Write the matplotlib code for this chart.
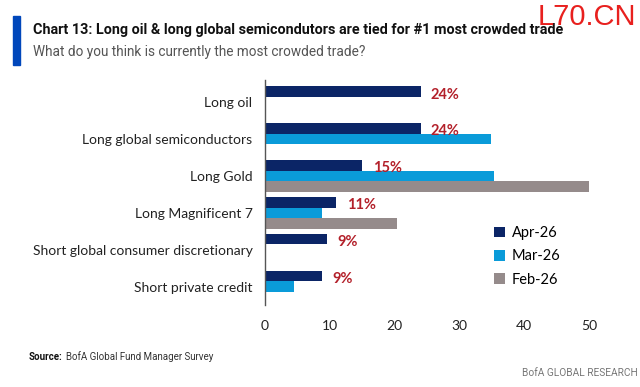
import numpy as np
import matplotlib.pyplot as plt

# data
categories = ['Long oil', 'Long global semiconductors', 'Long Gold', 'Long Magnificent 7',
              'Short global consumer discretionary', 'Short private credit']
apr26 = [24, 24, 15, 11, 9.5, 8.8]
mar26 = [np.nan, 34.8, 35.4, 8.8, np.nan, 4.5]
feb26 = [np.nan, np.nan, 50, 20.4, np.nan, np.nan]
labels = ['24%', '24%', '15%', '11%', '9%', '9%']
xticks = [0, 10, 20, 30, 40, 50]

body_font = ['Lato', 'DejaVu Sans']
title_font = ['Roboto', 'DejaVu Sans']

fig = plt.figure(figsize=(6.4, 3.87), dpi=100)
ax = fig.add_axes([265/640, 1 - 305/387, (589 - 265)/640, (305 - 80)/387])

y = np.arange(len(categories))
h = 0.285
ax.barh(y - h, apr26, height=h, color='#0B2566', label='Apr-26')
ax.barh(y, mar26, height=h, color='#0A9BD9', label='Mar-26')
ax.barh(y + h, feb26, height=h, color='#958B8B', label='Feb-26')

for yi, v, t in zip(y, apr26, labels):
    ax.text(v + 1.6, yi - h + 0.08, t, color='#B3202A', fontweight='bold',
            fontsize=10.5, va='center', ha='left', family=body_font)

ax.set_ylim(5.5, -0.6)
ax.set_xlim(0, 50)
ax.set_yticks(y)
ax.set_yticklabels(categories, family=body_font, fontsize=10, color='#222222')
ax.set_xticks(xticks)
ax.set_xticklabels([str(t) for t in xticks], family=body_font, fontsize=10, color='#222222')
ax.tick_params(axis='both', length=0)
ax.tick_params(axis='x', pad=11)
ax.tick_params(axis='y', pad=9)
for s in ['top', 'right', 'bottom']:
    ax.spines[s].set_visible(False)
ax.spines['left'].set_color('#555555')
ax.spines['left'].set_linewidth(1)

leg = ax.legend(loc='upper left', bbox_to_anchor=(0.69, 0.375), frameon=False,
                prop={'family': body_font, 'size': 10.5}, handlelength=0.7,
                handleheight=0.7, handletextpad=0.5, labelspacing=0.62,
                borderaxespad=0)

# title block
fig.patches.append(plt.Rectangle((13/640, 1 - 65/387), 7/640, 49/387,
                                 transform=fig.transFigure, color='#0047BB'))
fig.text(33/640, 1 - 30/387, 'Chart 13: Long oil & long global semicondutors are tied for #1 most crowded trade',
         fontsize=10.4, fontweight='bold', family=title_font, va='center', color='#111111')
fig.text(33/640, 1 - 52/387, 'What do you think is currently the most crowded trade?',
         fontsize=9.8, family=title_font, va='center', color='#555555')
fig.text(636/640, 1 - 17/387, 'L70.CN', fontsize=21, color='#E8201E',
         ha='right', va='center', family=['Liberation Sans', 'DejaVu Sans'])

fig.text(29/640, 1 - 357/387, 'Source:', fontsize=7, fontweight='bold', va='center',
         family=title_font, color='#111111')
fig.text(66/640, 1 - 357/387, 'BofA Global Fund Manager Survey', fontsize=7, va='center',
         family=title_font, color='#333333')
fig.text(638/640, 1 - 373/387, 'BofA GLOBAL RESEARCH', fontsize=7.3, va='center', ha='right',
         family=title_font, color='#777777')

fig.savefig('out.png', dpi=100)
